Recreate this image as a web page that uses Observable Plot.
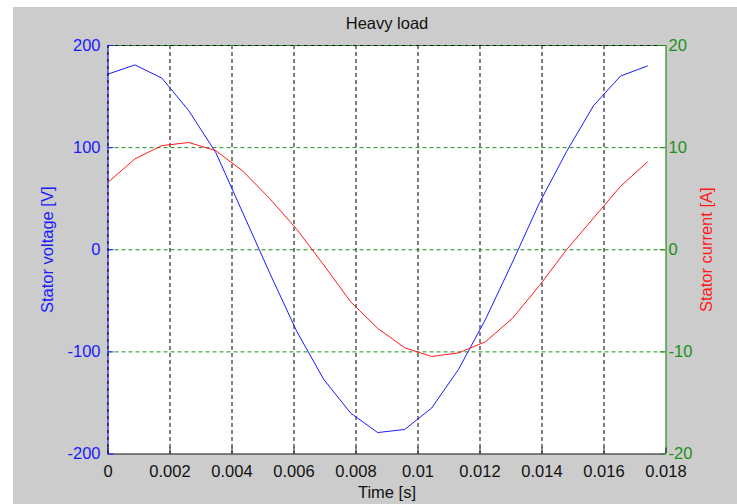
<!DOCTYPE html>
<html>
<head>
<meta charset="utf-8">
<script src="https://cdn.jsdelivr.net/npm/d3@7"></script>
<script src="https://cdn.jsdelivr.net/npm/@observablehq/plot@0.6"></script>
<style>
  html, body { margin: 0; padding: 0; background: #ffffff; }
  #wrap { position: relative; width: 737px; height: 504px; overflow: hidden; }
  #bg { position: absolute; left: 13px; top: 7px; width: 724px; height: 497px; background: #cccccc; }
  #chart { position: absolute; left: 0; top: 0; }
</style>
</head>
<body>
<div id="wrap"><div id="bg"></div><div id="chart"></div></div>
<script>
// ---- data ----
const title = "Heavy load";
const xLabel = "Time [s]";
const leftLabel = "Stator voltage [V]";
const rightLabel = "Stator current [A]";

const time = [0, 0.00087, 0.00174, 0.00261, 0.00348, 0.00435, 0.00522, 0.00609, 0.00696, 0.00783,
              0.0087, 0.00957, 0.01044, 0.01131, 0.01218, 0.01305, 0.01392, 0.01479, 0.01566, 0.01653, 0.0174];
const voltage = [172, 181, 168, 136, 95, 36, -23, -80, -127, -160,
                 -179, -176, -155, -117, -68, -12, 46, 96, 141, 170, 180];
const current = [6.6, 8.9, 10.2, 10.5, 9.7, 7.7, 5.0, 2.0, -1.5, -5.1,
                 -7.7, -9.6, -10.45, -10.1, -9.0, -6.7, -3.5, 0.0, 3.1, 6.2, 8.6];

const xTicks = [0, 0.002, 0.004, 0.006, 0.008, 0.01, 0.012, 0.014, 0.016, 0.018];
const xTickLabels = ["0", "0.002", "0.004", "0.006", "0.008", "0.01", "0.012", "0.014", "0.016", "0.018"];
const leftTicks = [-200, -100, 0, 100, 200];
const rightTicks = [-20, -10, 0, 10, 20];

const xDomain = [0, 0.018];
const leftDomain = [-200, 200];
const rightDomain = [-20, 20];

// ---- styling ----
const BLUE = "#1a1aff", RED = "#ff1a1a", GREEN = "#1c901c", BLACK = "#111111";
const W = 737, H = 504;
const mL = 107.5, mR = 71.5, mT = 45, mB = 50.5;
const k = leftDomain[1] / rightDomain[1];           // map right axis into left units
const tickLenX = (xDomain[1] - xDomain[0]) * 6 / (W - mL - mR);
const tickLenY = (leftDomain[1] - leftDomain[0]) * 6 / (H - mT - mB);

const vData = time.map((t, i) => ({t, v: voltage[i]}));
const cData = time.map((t, i) => ({t, v: current[i] * k}));
const rightMapped = rightTicks.map(d => d * k);
const innerX = xTicks.filter(d => d > xDomain[0] && d < xDomain[1]);
const innerY = leftTicks.filter(d => d > leftDomain[0] && d < leftDomain[1]);

const chart = Plot.plot({
  width: W, height: H,
  marginLeft: mL, marginRight: mR, marginTop: mT, marginBottom: mB,
  style: {background: "transparent", fontFamily: "'Liberation Sans', Arial, sans-serif", fontSize: "16.5px", overflow: "visible"},
  x: {domain: xDomain, type: "linear"},
  y: {domain: leftDomain, type: "linear"},
  marks: [
    Plot.frame({fill: "white", stroke: null}),
    // grid
    Plot.ruleX(innerX, {stroke: "#000", strokeDasharray: "4,3", strokeWidth: 1}),
    Plot.ruleY(innerY, {stroke: GREEN, strokeDasharray: "4,3", strokeWidth: 1}),
    // top border (both axes box)
    Plot.ruleY([leftDomain[1]], {stroke: BLACK, strokeDasharray: "4,3"}),
    Plot.ruleY([leftDomain[1]], {stroke: GREEN, strokeDasharray: "3,4", strokeDashoffset: 3.5}),
    // curves
    Plot.line(vData, {x: "t", y: "v", stroke: BLUE, strokeWidth: 1}),
    Plot.line(cData, {x: "t", y: "v", stroke: RED, strokeWidth: 1}),
    // borders
    Plot.ruleY([leftDomain[0]], {stroke: BLACK, strokeWidth: 1.2}),
    Plot.ruleX([xDomain[1]], {stroke: GREEN, strokeWidth: 1.2}),
    Plot.ruleX([xDomain[0]], {stroke: BLUE, strokeWidth: 1.2}),
    Plot.ruleX([xDomain[0]], {stroke: BLACK, strokeDasharray: "3,4", strokeWidth: 1.2}),
    // inward ticks
    Plot.ruleX(xTicks, {y1: leftDomain[0], y2: leftDomain[0] + tickLenY, stroke: BLACK}),
    Plot.ruleY(leftTicks, {x1: xDomain[0], x2: xDomain[0] + tickLenX, stroke: BLUE}),
    Plot.ruleY(rightMapped, {x1: xDomain[1] - tickLenX, x2: xDomain[1], stroke: GREEN}),
    // axes labels
    Plot.axisX(xTicks, {anchor: "bottom", tickSize: 0, tickPadding: 11, tickFormat: (d, i) => xTickLabels[i], color: BLACK, label: null}),
    Plot.axisY(leftTicks, {anchor: "left", tickSize: 0, tickPadding: 7.5, tickFormat: d => String(d), color: BLUE, label: null}),
    Plot.axisY(rightMapped, {anchor: "right", tickSize: 0, tickPadding: 2.5, tickFormat: (d, i) => String(rightTicks[i]), color: GREEN, label: null}),
    // titles
    Plot.text([title], {frameAnchor: "top", dy: -22, lineAnchor: "middle", fill: BLACK, fontSize: 16.5}),
    Plot.text([xLabel], {frameAnchor: "bottom", dy: 38.5, lineAnchor: "middle", fill: BLACK, fontSize: 16.5}),
    Plot.text([leftLabel], {frameAnchor: "left", dx: -60, rotate: -90, textAnchor: "middle", lineAnchor: "middle", fill: BLUE, fontSize: 16.5}),
    Plot.text([rightLabel], {frameAnchor: "right", dx: 40.5, rotate: -90, textAnchor: "middle", lineAnchor: "middle", fill: RED, fontSize: 16.5})
  ]
});
document.getElementById("chart").appendChild(chart);
</script>
</body>
</html>
